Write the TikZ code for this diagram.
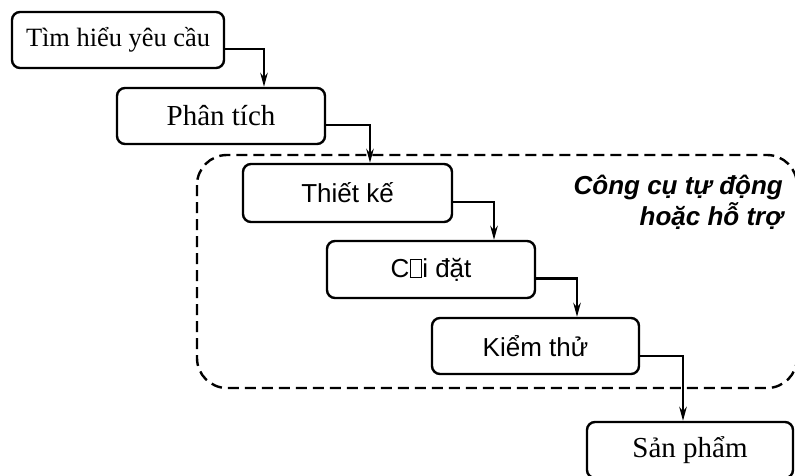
\documentclass[tikz,border=0pt]{standalone}
\usepackage{fontspec}
\setmainfont{Liberation Serif}
\setsansfont{Liberation Sans}
\usetikzlibrary{arrows.meta}
\newcommand\missbox{{\setlength{\fboxsep}{0pt}\setlength{\fboxrule}{0.6pt}\kern0.5pt\fbox{\rule{0pt}{0.66em}\hspace{0.42em}}\kern0.3pt}}
\begin{document}
\begin{tikzpicture}[x=1pt,y=-1pt,
  box/.style={draw, line width=2.4pt, rounded corners=8pt, inner sep=0pt, align=center},
  serifbox/.style={box, font=\fontsize{29}{34}\selectfont\rmfamily},
  sansbox/.style={box, font=\fontsize{26}{31}\selectfont\sffamily},
  conn/.style={line width=2.2pt, -{Stealth[length=14pt,width=7.5pt]}},
  group/.style={line width=2.4pt, dash pattern=on 11pt off 6pt, rounded corners=30pt}]
\useasboundingbox (0,0) rectangle (795,476);
\draw[group] (197,155) rectangle (797,388);
\node[serifbox, font=\fontsize{26.4}{31}\selectfont\rmfamily, minimum width=212pt, minimum height=56pt] (a) at (118,40) {Tìm hiểu yêu cầu};
\node[serifbox, minimum width=208pt, minimum height=56pt] (b) at (221,116) {Phân tích};
\node[sansbox, minimum width=209pt, minimum height=58pt] (c) at (347.5,193) {Thiết kế};
\node[sansbox, minimum width=208pt, minimum height=57pt] (d) at (431,269.5) {C\missbox i đặt};
\node[sansbox, minimum width=207pt, minimum height=56pt] (e) at (535.5,346) {Kiểm thử};
\node[serifbox, minimum width=206pt, minimum height=56pt] (f) at (690,450) {Sản phẩm};
\node[anchor=north east, align=right, inner sep=0pt, font=\fontsize{26}{31}\selectfont\sffamily\bfseries\itshape] (lbl) at (783,175) {Công cụ tự động\\hoặc hỗ trợ};
\draw[conn] ([yshift=-9pt]a.east) -| ([xshift=43pt]b.north);
\draw[conn] ([yshift=-9pt]b.east) -| ([xshift=22.5pt]c.north);
\draw[conn] ([yshift=-9pt]c.east) -| ([xshift=63pt]d.north);
\draw[conn] ([yshift=-9pt]d.east) -| ([xshift=41.5pt]e.north);
\draw[conn] ([yshift=-10pt]e.east) -| ([xshift=-7pt]f.north);
\end{tikzpicture}
\end{document}
